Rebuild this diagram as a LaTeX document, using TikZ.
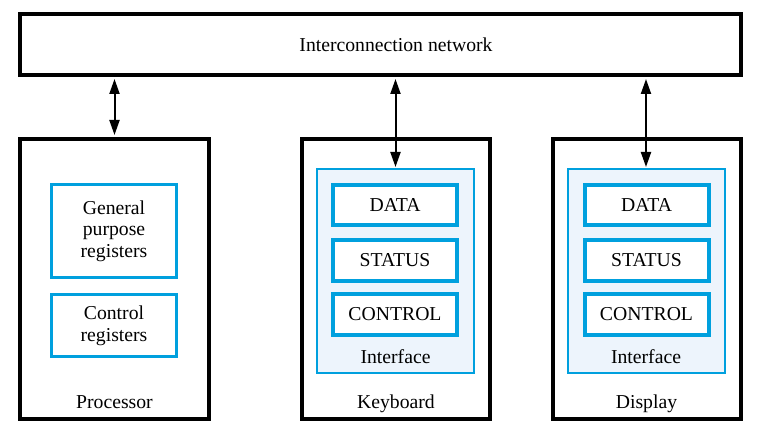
\documentclass[tikz,border=0pt]{standalone}
\usepackage{fontspec}
\setmainfont{Liberation Serif}
\newfontfamily\tmsfont{Liberation Serif}
\usetikzlibrary{arrows.meta}
\definecolor{regblue}{RGB}{0,160,222}
\definecolor{iffill}{RGB}{237,244,252}
\begin{document}
\begin{tikzpicture}[x=1pt,y=-1pt,
  every node/.style={font=\tmsfont\fontsize{19.7}{21.7}\selectfont, inner sep=0pt, align=center},
  outerbox/.style={draw=black, line width=4pt, fill=white, minimum width=#1},
  ifbox/.style={draw=regblue, line width=2pt, fill=iffill, minimum width=157pt, minimum height=204pt},
  regbox/.style={draw=regblue, line width=4pt, fill=white, minimum width=124pt, minimum height=41pt},
  procreg/.style={draw=regblue, line width=3pt, fill=white, minimum width=125pt},
  conn/.style={line width=2pt, {Triangle[length=15pt,width=10pt]}-{Triangle[length=15pt,width=10pt]}}
]
\useasboundingbox (0,0) rectangle (758,433);
\fill[white] (0,0) rectangle (758,433);

% interconnection network
\node[outerbox=721pt, minimum height=61pt] (net) at (380.5,44.5) {};
\node (netlbl) at (396,44.5) {Interconnection network};

% processor
\node[outerbox=189pt, minimum height=280pt] (proc) at (114.5,279) {};
\node[procreg, minimum height=93pt] (gpr) at (114,231) {General\\purpose\\registers};
\node[procreg, minimum height=62pt] (cr) at (114,325.5) {Control\\registers};
\node[anchor=base] (proclbl) at (114.5,408) {Processor};

% keyboard
\node[outerbox=188pt, minimum height=280pt] (kbd) at (396,279) {};
\node[ifbox] (kbif) at (395.5,271) {};
\node[regbox, minimum height=40pt] (kbdata) at (395,205) {DATA};
\node[regbox] (kbstatus) at (395,260.5) {STATUS};
\node[regbox] (kbcontrol) at (395,314.5) {CONTROL};
\node[anchor=base] (kbiflbl) at (395.5,363) {Interface};
\node[anchor=base] (kbdlbl) at (396,408) {Keyboard};

% display
\node[outerbox=188pt, minimum height=280pt] (disp) at (646.5,279) {};
\node[ifbox] (dispif) at (646,271) {};
\node[regbox, minimum height=40pt] (dispdata) at (646.5,205) {DATA};
\node[regbox] (dispstatus) at (646.5,260.5) {STATUS};
\node[regbox] (dispcontrol) at (646.5,314.5) {CONTROL};
\node[anchor=base] (dispiflbl) at (646,363) {Interface};
\node[anchor=base] (displbl) at (646.5,408) {Display};

% connectors
\draw[conn, shorten <=2pt, shorten >=2pt] (net.south -| proc.north) -- (proc.north);
\draw[conn, shorten <=2pt, shorten >=1pt] (net.south -| kbif.north) -- (kbif.north);
\draw[conn, shorten <=2pt, shorten >=1pt] (net.south -| dispif.north) -- (dispif.north);
\end{tikzpicture}
\end{document}
